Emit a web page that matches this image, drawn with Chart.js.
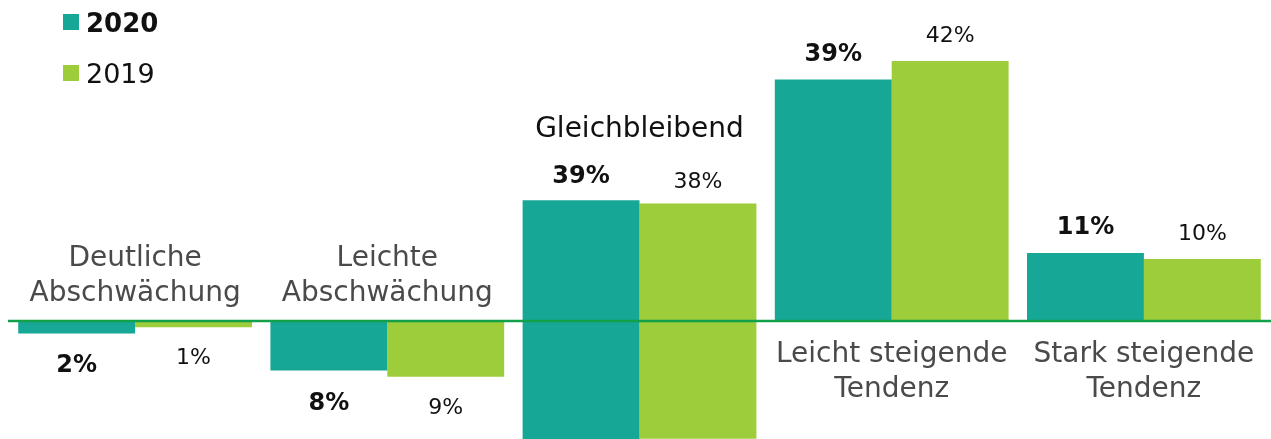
<!DOCTYPE html>
<html>
<head>
<meta charset="utf-8">
<script src="https://cdn.jsdelivr.net/npm/chart.js@4"></script>
<style>
  html, body { margin: 0; padding: 0; background: #ffffff; }
  canvas { display: block; }
</style>
</head>
<body>
<canvas id="c" width="1271" height="439"></canvas>
<script>
// ---- Data ----
const categories = [
  ['Deutliche', 'Abschwächung'],
  ['Leichte', 'Abschwächung'],
  ['Gleichbleibend'],
  ['Leicht steigende', 'Tendenz'],
  ['Stark steigende', 'Tendenz']
];
const seriesNames = ['2020', '2019'];
const values2020 = [-2, -8, 39, 39, 11];
const values2019 = [-1, -9, 38, 42, 10];
const neutralIndex = 2; // "Gleichbleibend" bar is drawn centred on the zero line

const colors = ['#17a797', '#9dcd3a'];
const FONT = '"DejaVu Sans", sans-serif';

function toBarData(vals) {
  return vals.map((v, i) => i === neutralIndex ? [-v / 2, v / 2] : v);
}
const seriesValues = [values2020, values2019];

const overlayPlugin = {
  id: 'overlay',
  afterDatasetsDraw(chart) {
    const ctx = chart.ctx;
    const yScale = chart.scales.y;
    const xScale = chart.scales.x;
    const zeroY = yScale.getPixelForValue(0);

    // zero line
    ctx.save();
    ctx.strokeStyle = '#12a04a';
    ctx.lineWidth = 2.6;
    ctx.beginPath();
    ctx.moveTo(8, zeroY);
    ctx.lineTo(chart.width, zeroY);
    ctx.stroke();

    // value labels
    ctx.textAlign = 'center';
    ctx.textBaseline = 'alphabetic';
    seriesValues.forEach((vals, di) => {
      const meta = chart.getDatasetMeta(di);
      meta.data.forEach((bar, i) => {
        const v = vals[i];
        const top = Math.min(bar.y, bar.base);
        const bottom = Math.max(bar.y, bar.base);
        ctx.font = di === 0 ? 'bold 24px ' + FONT : '22px ' + FONT;
        ctx.fillStyle = '#111111';
        const txt = Math.abs(v) + '%';
        let y;
        if (v < 0) {
          y = bottom + (di === 0 ? 39 : 37);
        } else {
          y = top - (i === neutralIndex ? (di === 0 ? 17 : 15) : 19);
        }
        ctx.fillText(txt, bar.x, y);
      });
    });

    // category labels
    ctx.font = '28px ' + FONT;
    categories.forEach((lines, i) => {
      const cx = xScale.getPixelForValue(i);
      const v = values2020[i];
      let baselines;
      if (i === neutralIndex) {
        const bar = chart.getDatasetMeta(0).data[i];
        const top = Math.min(bar.y, bar.base);
        baselines = [top - 63];
        ctx.fillStyle = '#111111';
      } else if (v < 0) {
        baselines = [zeroY - 55, zeroY - 20];
        ctx.fillStyle = '#4a4a4a';
      } else {
        baselines = [zeroY + 41, zeroY + 76];
        ctx.fillStyle = '#4a4a4a';
      }
      lines.forEach((line, li) => ctx.fillText(line, cx, baselines[li]));
    });

    // legend
    ctx.textAlign = 'left';
    const legendRows = [
      { y: 14, base: 31.5, font: 'bold 26px ' + FONT },
      { y: 65, base: 83, font: '27px ' + FONT }
    ];
    seriesNames.forEach((name, di) => {
      const r = legendRows[di];
      ctx.fillStyle = colors[di];
      ctx.fillRect(63, r.y, 16, 16);
      ctx.fillStyle = '#111111';
      ctx.font = r.font;
      ctx.fillText(name, 86, r.base);
    });
    ctx.restore();
  }
};

new Chart(document.getElementById('c'), {
  type: 'bar',
  data: {
    labels: categories.map(l => l.join(' ')),
    datasets: seriesNames.map((name, di) => ({
      label: name,
      data: toBarData(seriesValues[di]),
      backgroundColor: colors[di],
      borderWidth: 0,
      barPercentage: 1.0,
      categoryPercentage: 0.927
    }))
  },
  options: {
    responsive: false,
    animation: false,
    layout: { padding: { left: 9, right: 1, top: 0, bottom: 0 } },
    plugins: { legend: { display: false }, tooltip: { enabled: false } },
    scales: {
      x: { display: false, offset: true, grid: { display: false } },
      y: { display: false, min: -19.06, max: 51.86, grid: { display: false } }
    }
  },
  plugins: [overlayPlugin]
});
</script>
</body>
</html>
